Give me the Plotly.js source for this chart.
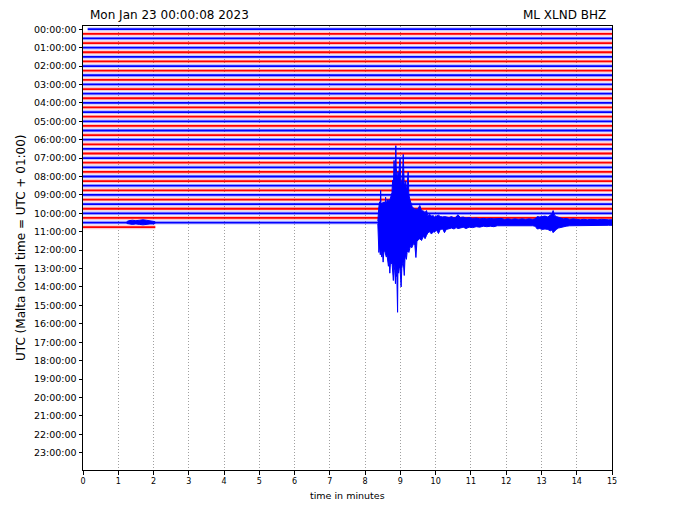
<!DOCTYPE html>
<html><head><meta charset="utf-8">
<script src="https://cdn.plot.ly/plotly-3.0.1.min.js"></script>
<style>html,body{margin:0;padding:0;background:#fff}#chart{width:696px;height:522px}</style>
</head><body><div id="chart"></div>
<script>
// ---- data ----
const hourLabels = ["00:00:00","01:00:00","02:00:00","03:00:00","04:00:00","05:00:00","06:00:00","07:00:00",
  "08:00:00","09:00:00","10:00:00","11:00:00","12:00:00","13:00:00","14:00:00","15:00:00",
  "16:00:00","17:00:00","18:00:00","19:00:00","20:00:00","21:00:00","22:00:00","23:00:00"];
const minuteTicks = [0,1,2,3,4,5,6,7,8,9,10,11,12,13,14,15];
const tracesPerHour = 4;          // 15-minute lines
const minutesPerLine = 15;
const firstSampleMin = 0.133;     // data starts 00:00:08
const lastTraceIndex = 43;        // 10:45 line
const lastSampleMin = 2.05;       // data ends ~10:47
const lineColors = ["#0000ff", "#ff0000"];

// small burst on the 10:30 line (minutes, up / down excursions in line spacings)
const burstMin  = [1.24,1.30,1.40,1.50,1.60,1.70,1.80,1.90,2.00,2.04];
const burstUp   = [0.2,0.4,0.5,0.4,0.5,0.6,0.5,0.4,0.4,0.2];
const burstDown = [0.2,0.3,0.4,0.3,0.4,0.5,0.4,0.3,0.3,0.2];

// earthquake on the 10:30 line: envelope (minutes, up / down excursions in line spacings)
const quakeLine = 42;
const quakeMin = [8.36,8.37,8.39,8.41,8.43,8.44,8.45,8.47,8.49,8.51,8.53,8.55,8.57,8.58,8.60,8.62,8.64,8.66,8.68,8.70,
  8.72,8.74,8.76,8.78,8.80,8.82,8.84,8.86,8.87,8.88,8.90,8.92,8.93,8.95,8.97,8.99,9.01,9.02,9.04,9.06,
  9.08,9.10,9.11,9.13,9.15,9.17,9.19,9.22,9.24,9.27,9.30,9.32,9.35,9.38,9.41,9.44,9.47,9.50,9.55,9.60,
  9.65,9.70,9.74,9.78,9.83,9.88,9.93,9.97,10.02,10.08,10.13,10.20,10.25,10.30,10.38,10.45,10.52,10.58,10.63,10.70,
  10.78,10.86,10.95,11.05,11.15,11.25,11.35,11.45,11.55,11.65,11.75,11.85,11.95,12.05,12.15,12.25,12.35,12.45,12.55,12.65,
  12.75,12.82,12.88,12.95,13.02,13.10,13.18,13.25,13.30,13.33,13.37,13.42,13.48,13.55,13.62,13.70,13.80,13.90,14.00,14.10,
  14.20,14.30,14.40,14.50,14.60,14.70,14.80,14.90,15.00];
const quakeUp = [0.3,3.0,3.5,4.5,3.8,7.0,4.0,4.2,3.8,4.5,4.0,4.5,4.0,5.5,4.2,4.5,5.0,4.5,5.0,4.8,
  5.5,6.0,6.5,9.2,7.5,13.5,10.0,11.0,16.7,12.0,10.5,9.0,11.0,10.0,12.0,14.0,9.5,8.0,9.0,10.0,
  14.8,9.0,8.0,8.5,9.0,7.0,8.0,11.0,6.0,5.0,4.0,3.9,3.0,3.2,2.8,3.0,2.8,3.0,3.7,2.6,
  2.5,2.2,2.6,1.5,1.8,1.4,1.5,1.2,1.4,1.6,1.3,1.2,1.3,1.2,1.1,1.3,1.0,1.2,1.7,1.1,
  1.2,1.0,1.1,0.9,1.0,0.8,0.9,0.8,0.9,0.8,0.8,0.9,0.7,0.8,0.7,0.8,0.7,0.8,0.7,0.8,
  0.7,0.8,1.3,1.2,1.3,1.4,1.2,1.5,1.9,2.6,1.6,1.3,1.1,1.0,0.8,0.9,0.7,0.8,0.7,0.6,
  0.7,0.6,0.7,0.6,0.6,0.7,0.6,0.6,0.6];
const quakeDown = [0.3,4.0,6.5,5.0,7.0,5.5,6.0,7.5,6.0,8.6,6.5,6.0,7.0,6.5,7.5,7.0,8.0,9.5,8.0,11.0,
  8.5,9.0,8.5,10.0,12.6,9.0,10.5,13.3,9.0,11.0,12.0,19.5,10.0,11.0,9.7,10.0,12.0,14.0,10.0,9.0,
  8.5,10.0,11.5,8.0,7.0,8.0,6.5,6.0,6.5,5.5,5.0,5.5,5.0,4.5,5.0,7.6,4.0,3.8,3.5,3.9,
  3.0,3.5,2.8,2.2,2.0,2.5,2.0,2.1,1.6,2.4,1.5,1.4,2.2,1.5,1.3,1.2,1.4,1.1,1.3,1.2,
  1.0,1.3,1.0,1.1,0.9,1.0,0.8,0.9,0.8,0.9,0.7,0.8,0.8,0.7,0.8,0.7,0.8,0.7,0.8,0.7,
  0.7,0.8,1.4,1.3,1.5,1.4,1.5,1.8,1.6,2.2,2.0,1.5,1.2,1.0,0.9,0.8,0.7,0.6,0.7,0.6,
  0.6,0.7,0.6,0.6,0.7,0.6,0.6,0.6,0.6];

// ---- build traces ----
const flatX = [[], []], flatY = [[], []];
for (let i = 0; i <= lastTraceIndex; i++) {
  const c = i % 2;
  const x0 = i === 0 ? firstSampleMin : 0;
  const x1 = i === lastTraceIndex ? lastSampleMin : minutesPerLine;
  flatX[c].push(x0, x1, null);
  flatY[c].push(i, i, null);
}
const traces = [];
for (let c = 0; c < 2; c++) {
  traces.push({x: flatX[c], y: flatY[c], type: "scatter", mode: "lines",
    line: {color: lineColors[c], width: 4}, opacity: 0.22, hoverinfo: "skip", showlegend: false});
  traces.push({x: flatX[c], y: flatY[c], type: "scatter", mode: "lines",
    line: {color: lineColors[c], width: 1.8}, hoverinfo: "skip", showlegend: false});
}
function envelope(t, up, down, line) {
  const xs = t.concat(t.slice().reverse());
  const ys = up.map(v => line - v).concat(down.map(v => line + v).reverse());
  return {x: xs, y: ys, type: "scatter", mode: "lines", fill: "toself",
    fillcolor: lineColors[line % 2], line: {color: lineColors[line % 2], width: 1},
    hoverinfo: "skip", showlegend: false};
}
traces.push(envelope(burstMin, burstUp, burstDown, quakeLine));
traces.push(envelope(quakeMin, quakeUp, quakeDown, quakeLine));

const tickVals = hourLabels.map((_, h) => h * tracesPerHour);
const F = "DejaVu Sans, sans-serif";
const layout = {
  width: 696, height: 522,
  margin: {l: 83, r: 84, t: 26, b: 52},
  paper_bgcolor: "#fff", plot_bgcolor: "#fff",
  showlegend: false,
  font: {family: F, color: "#000"},
  xaxis: {range: [0, 15], tickvals: minuteTicks, ticktext: minuteTicks.map(String),
    ticks: "outside", ticklen: 3.5, tickwidth: 1, tickcolor: "#000",
    tickfont: {family: F, size: 8, color: "#000"},
    showgrid: true, gridcolor: "#777", griddash: "1px,2px", gridwidth: 0.7,
    zeroline: false, showline: true, mirror: true, linecolor: "#000", linewidth: 1},
  yaxis: {range: [95.76, -0.7], tickvals: tickVals, ticktext: hourLabels,
    ticks: "outside", ticklen: 3.5, tickwidth: 1, tickcolor: "#000",
    tickfont: {family: F, size: 9.5, color: "#000"},
    showgrid: false, zeroline: false, showline: true, mirror: true, linecolor: "#000", linewidth: 1},
  annotations: [
    {text: "Mon Jan 23 00:00:08 2023", xref: "paper", yref: "paper", x: (88 - 83) / 529, y: (470 - 15.5) / 444,
      xanchor: "left", yanchor: "middle", showarrow: false, font: {family: F, size: 12, color: "#000"}},
    {text: "ML XLND BHZ", xref: "paper", yref: "paper", x: (608 - 83) / 529, y: (470 - 15.5) / 444,
      xanchor: "right", yanchor: "middle", showarrow: false, font: {family: F, size: 12, color: "#000"}},
    {text: "UTC (Malta local time = UTC + 01:00)", xref: "paper", yref: "paper", x: (21 - 83) / 529, y: (470 - 248) / 444,
      xanchor: "center", yanchor: "middle", textangle: -90, showarrow: false, font: {family: F, size: 12, color: "#000"}},
    {text: "time in minutes", xref: "paper", yref: "paper", x: 0.5, y: (470 - 495) / 444,
      xanchor: "center", yanchor: "middle", showarrow: false, font: {family: F, size: 9.5, color: "#000"}}
  ]
};
Plotly.newPlot("chart", traces, layout, {displayModeBar: false, staticPlot: true});
</script></body></html>
